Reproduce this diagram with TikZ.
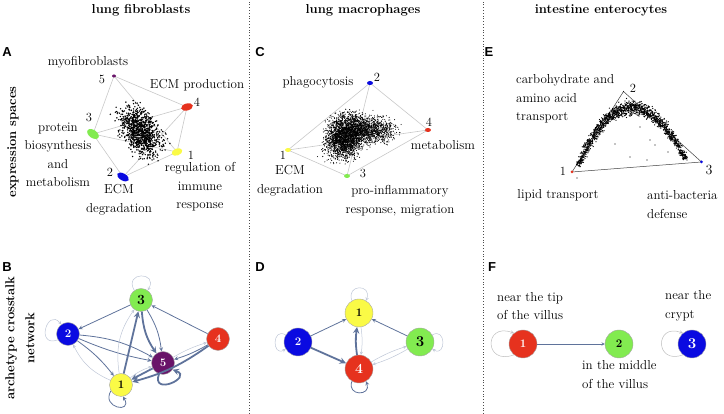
\documentclass[tikz,border=0pt]{standalone}
\usepackage{fontspec}
\newfontfamily\panelfont{Liberation Sans}
\usepackage{tikz}
\usetikzlibrary{shapes,arrows,positioning,calc,backgrounds}
\definecolor{archyellow}{RGB}{250,250,70}
\definecolor{archblue}{RGB}{10,10,225}
\definecolor{archgreen}{RGB}{130,235,80}
\definecolor{archred}{RGB}{230,50,30}
\definecolor{archpurple}{RGB}{105,20,105}
\definecolor{linkc}{RGB}{95,115,155}
\definecolor{hullc}{RGB}{200,200,200}

\begin{document}
\begin{tikzpicture}[
    x=1pt, y=1pt,
    heading/.style={font=\fontsize{13}{20}\selectfont\bfseries, align=center},
    panel/.style={font=\fontsize{13}{15}\selectfont\panelfont\bfseries},
    lab/.style={font=\fontsize{13}{18.5}\selectfont, align=center, inner sep=0pt},
    num/.style={font=\fontsize{12.5}{14}\selectfont, inner sep=0pt},
    apex/.style={ellipse, draw=none, inner sep=0pt},
    arch/.style={circle, draw=black!35, inner sep=0pt, minimum size=23pt, font=\fontsize{11.5}{13}\selectfont\bfseries},
    link/.style={->, >=stealth, draw=linkc, line width=0.8pt},
    weak/.style={link, draw=linkc!40, line width=0.5pt},
    strong/.style={link, line width=1.8pt},
    hull/.style={draw=hullc, line width=0.6pt}
]
    \useasboundingbox (0,0) rectangle (724,414);
    \pgfmathsetseed{17}

    % Column headings and separators
    \node[heading] (colA) at (141,404) {lung fibroblasts};
    \node[heading] (colC) at (363,404) {lung macrophages};
    \node[heading] (colE) at (601,404) {intestine enterocytes};
    \draw[black!70, dotted, line width=0.8pt] (249,0) -- (249,414);
    \draw[black!70, dotted, line width=0.8pt] (483,0) -- (483,414);

    % Row labels
    \node[heading, rotate=90] (rowtop) at (13,272) {expression spaces};
    \node[heading, rotate=90] (rowbot) at (20,76) {archetype crosstalk\\network};

    % Panel letters
    \node[panel] (pA) at (7,362) {A};
    \node[panel] (pC) at (260,362) {C};
    \node[panel] (pE) at (489,362) {E};
    \node[panel] (pB) at (7,147) {B};
    \node[panel] (pD) at (260,147) {D};
    \node[panel] (pF) at (492,147) {F};

    % Panel A: lung fibroblasts
    \node[apex, fill=archpurple, minimum width=4pt, minimum height=3pt] (fib5) at (114,338) {};
    \node[apex, fill=archred, minimum width=12pt, minimum height=7pt, rotate=15] (fib4) at (187,307) {};
    \node[apex, fill=archgreen, minimum width=13pt, minimum height=8pt, rotate=-35] (fib3) at (93,280) {};
    \node[apex, fill=archyellow, minimum width=11pt, minimum height=7pt, rotate=20] (fib1) at (177,262) {};
    \node[apex, fill=archblue, minimum width=13pt, minimum height=7pt, rotate=-30] (fib2) at (123,237) {};
    \node[num] (fibn5) at (102,335) {5};
    \node[num] (fibn4) at (197,312) {4};
    \node[num] (fibn3) at (89,297) {3};
    \node[num] (fibn1) at (191,259) {1};
    \node[num] (fibn2) at (110,242) {2};
    \node[lab] (fibl5) at (88,352) {myofibroblasts};
    \node[lab] (fibl4) at (197,329) {ECM production};
    \node[lab] (fibl3) at (58,259) {protein\\biosynthesis\\and\\metabolism};
    \node[lab] (fibl1) at (200,227) {regulation of\\immune\\response};
    \node[lab] (fibl2) at (119,214) {ECM\\degradation};
    \begin{scope}[on background layer]
        \draw[hull] (fib5.center) -- (fib4.center) -- (fib1.center) -- (fib2.center) -- (fib3.center) -- (fib5.center);
        \draw[hull] (fib3.center) -- (fib4.center);
        \draw[hull] (fib3.center) -- (fib1.center);
        \draw[hull] (fib2.center) -- (fib4.center);
        \draw[hull] (fib5.center) -- (fib1.center);
        \foreach \i in {1,...,950}{
            \pgfmathsetmacro{\u}{rand+rand+rand}
            \pgfmathsetmacro{\v}{rand+rand+rand}
            \fill ({140+7.2*\u+6.6*\v},{283-10.8*\u+4.4*\v}) circle (0.8);
        }
    \end{scope}

    % Panel C: lung macrophages
    \node[apex, fill=archblue, minimum width=6pt, minimum height=4pt] (mac2) at (370,331) {};
    \node[apex, fill=archred, minimum width=6pt, minimum height=4pt] (mac4) at (428,284) {};
    \node[apex, fill=archyellow, minimum width=6pt, minimum height=4pt] (mac1) at (288,264) {};
    \node[apex, fill=archgreen, minimum width=6pt, minimum height=4pt] (mac3) at (347,238) {};
    \node[num] (macn2) at (377,337) {2};
    \node[num] (macn4) at (429,292) {4};
    \node[num] (macn1) at (283,259) {1};
    \node[num] (macn3) at (363,241) {3};
    \node[lab] (macl2) at (318,332) {phagocytosis};
    \node[lab] (macl4) at (443,269) {metabolism};
    \node[lab] (macl1) at (290,233) {ECM\\degradation};
    \node[lab] (macl3) at (400,213) {pro-inflammatory\\response, migration};
    \begin{scope}[on background layer]
        \draw[hull] (mac1.center) -- (mac2.center) -- (mac4.center) -- (mac3.center) -- (mac1.center);
        \draw[hull] (mac1.center) -- (mac4.center);
        \draw[hull] (mac2.center) -- (mac3.center);
        \foreach \i in {1,...,2400}{
            \pgfmathsetmacro{\u}{rand+rand+rand}
            \pgfmathsetmacro{\v}{rand+rand+rand}
            \fill ({346+9*\u+2*\v},{278+10.5*\v}) circle (0.55);
        }
        \foreach \i in {1,...,1000}{
            \pgfmathsetmacro{\u}{rand+rand+rand}
            \pgfmathsetmacro{\v}{rand+rand+rand}
            \fill ({371+11*\u},{284+6*\v}) circle (0.55);
        }
    \end{scope}

    % Panel E: intestine enterocytes
    \node[apex, fill=archred, minimum width=3pt, minimum height=3pt] (ent1) at (572,242) {};
    \node[apex, fill=black, minimum width=1pt, minimum height=1pt] (ent2) at (623.5,322.5) {};
    \node[apex, fill=archblue, minimum width=3pt, minimum height=3pt] (ent3) at (701.5,252) {};
    \node[num] (entn1) at (563,243) {1};
    \node[num] (entn2) at (633,326) {2};
    \node[num, font=\fontsize{14}{16}\selectfont] (entn3) at (709,244) {3};
    \node[lab, align=left, anchor=west] (entl2) at (516,315) {carbohydrate and\\amino acid\\transport};
    \node[lab] (entl1) at (558,219) {lipid transport};
    \node[lab, align=left, anchor=west] (entl3) at (647,209.5) {anti-bacteria\\defense};
    \begin{scope}[on background layer]
        \draw[black!75, line width=0.5pt] (ent1.center) -- (ent2.center) -- (ent3.center) -- (ent1.center);
        \foreach \i in {1,...,1500}{
            \pgfmathsetmacro{\t}{rnd}
            \pgfmathsetmacro{\n}{rand+rand+rand}
            \pgfmathsetmacro{\bx}{(1-\t)^2*578+2*(1-\t)*\t*628.5+\t^2*686}
            \pgfmathsetmacro{\by}{(1-\t)^2*248+2*(1-\t)*\t*361.5+\t^2*255}
            \pgfmathsetmacro{\dx}{101*(1-\t)+115*\t}
            \pgfmathsetmacro{\dy}{227*(1-\t)-213*\t}
            \pgfmathsetmacro{\s}{(1.5+2*(1-abs(2*\t-1)))*\n/veclen(\dx,\dy)}
            \fill ({\bx-\dy*\s},{\by+\dx*\s}) circle (0.65);
        }
        \foreach \p in {(630,257),(647,254),(577,236),(650,274),(655,269),(640,287),(687,254),(603,282),(668,262),(615,270)}
            \fill \p circle (0.6);
    \end{scope}

    % Panel B: fibroblast crosstalk network
    \node[arch, fill=archgreen, font=\fontsize{14}{16}\selectfont\bfseries] (net3) at (141,114) {3};
    \node[arch, fill=archblue, text=white] (net2) at (68,80) {2};
    \node[arch, fill=archred, text=white] (net4) at (218,75) {4};
    \node[arch, fill=archpurple, text=white] (net5) at (163,51) {5};
    \node[arch, fill=archyellow] (net1) at (121,29) {1};
    \draw[weak] (net3.125) .. controls +(120:22) and +(60:22) .. (net3.55);
    \draw[weak] (net2.210) .. controls +(200:24) and +(130:22) .. (net2.125);
    \draw[strong] (net5.-110) .. controls +(-110:24) and +(-20:22) .. (net5.-35);
    \draw[link] (net1.-150) .. controls +(-120:20) and +(-60:20) .. (net1.-80);
    \draw[link] (net3) -- (net2);
    \draw[link] (net4) -- (net3);
    \draw[weak] (net1) to[bend left=20] (net2);
    \draw[link] (net2) to[bend left=8] (net1);
    \draw[link] (net2) to[bend left=12] (net5);
    \draw[link] (net2) to[bend right=6] (net5);
    \draw[weak] (net1) to[bend left=22] (net3);
    \draw[strong] (net1) -- (net3);
    \draw[strong] (net3) to[bend right=15] (net5);
    \draw[link] (net3) to[bend left=12] (net5);
    \draw[weak] (net5) to[bend left=6] (net4);
    \draw[link] (net4) to[bend left=6] (net5);
    \draw[strong] (net4) to[bend left=10] (net1);
    \draw[strong] (net5) -- (net1);
    \draw[weak] (net1) to[bend left=10] (net5);

    % Panel D: macrophage crosstalk network
    \node[arch, fill=archyellow, minimum size=28pt] (dnet1) at (359,101) {1};
    \node[arch, fill=archblue, text=white, minimum size=28pt] (dnet2) at (298,72) {2};
    \node[arch, fill=archgreen, minimum size=28pt, font=\fontsize{15}{17}\selectfont\bfseries] (dnet3) at (420,72) {3};
    \node[arch, fill=archred, text=white, minimum size=28pt, font=\fontsize{14}{16}\selectfont\bfseries] (dnet4) at (359,45) {4};
    \draw[weak] (dnet1.120) .. controls +(110:18) and +(70:18) .. (dnet1.60);
    \draw[weak] (dnet2.150) .. controls +(150:16) and +(210:16) .. (dnet2.210);
    \draw[weak] (dnet3.30) .. controls +(30:16) and +(-30:16) .. (dnet3.-30);
    \draw[link] (dnet4.-120) .. controls +(-110:16) and +(-70:16) .. (dnet4.-60);
    \draw[link] (dnet2) -- (dnet1);
    \draw[strong] (dnet2) -- (dnet4);
    \draw[strong] (dnet4) to[bend left=8] (dnet1);
    \draw[weak] (dnet1) to[bend left=8] (dnet4);
    \draw[link] (dnet3) -- (dnet1);
    \draw[weak] (dnet4) to[bend left=6] (dnet3);
    \draw[weak] (dnet3) to[bend left=6] (dnet4);

    % Panel F: enterocyte crosstalk network
    \node[arch, fill=archred, text=white, minimum size=28pt] (fnet1) at (523,70) {1};
    \node[arch, fill=archgreen, minimum size=28pt] (fnet2) at (619,70) {2};
    \node[arch, fill=archblue, text=white, minimum size=28pt, font=\fontsize{15}{17}\selectfont\bfseries] (fnet3) at (692,70) {3};
    \draw[weak, draw=black!25] (fnet1.230) .. controls +(200:32) and +(160:32) .. (fnet1.130);
    \draw[link, line width=0.5pt] (fnet1) -- (fnet2);
    \draw[weak, draw=black!25] (fnet3.230) .. controls +(200:30) and +(160:30) .. (fnet3.130);
    \node[lab, align=left, anchor=west] (fl1) at (497,108) {near the tip\\of the villus};
    \node[lab, align=left, anchor=west] (fl2) at (582,39.5) {in the middle\\of the villus};
    \node[lab, align=left, anchor=west] (fl3) at (665,108) {near the\\crypt};
\end{tikzpicture}
\end{document}
